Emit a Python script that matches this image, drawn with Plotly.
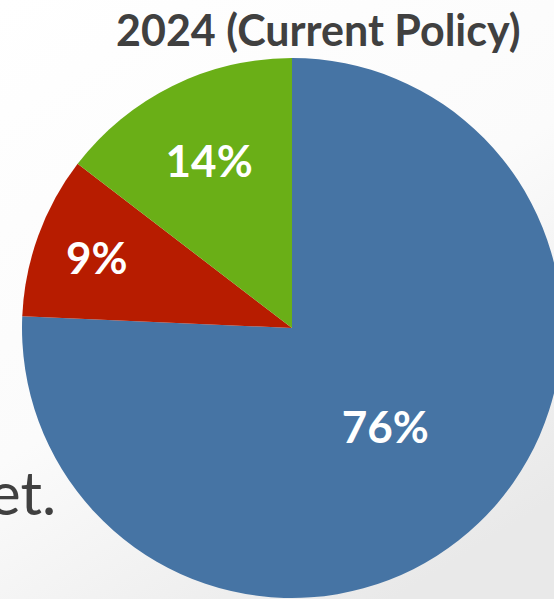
import base64
import plotly.graph_objects as go

categories = ["Blue", "Red", "Green"]
values = [75.7, 9.7, 14.6]
value_labels = ["76%", "9%", "14%"]
colors = ["#4674A4", "#B71C00", "#6AAF17"]
title_text = "2024 (Current Policy)"
side_text = "et."

W, H = 600, 620  # page viewport crops to 554x599

svg = ('<svg xmlns="http://www.w3.org/2000/svg" width="600" height="620">'
       '<defs><linearGradient id="g" x1="0" y1="0" x2="0.6" y2="1">'
       '<stop offset="0" stop-color="#ffffff"/><stop offset="0.55" stop-color="#fbfbfb"/>'
       '<stop offset="1" stop-color="#e9e9e9"/></linearGradient></defs>'
       '<rect width="600" height="620" fill="url(#g)"/></svg>')
bg = "data:image/svg+xml;base64," + base64.b64encode(svg.encode()).decode()

cx, cy, r = 292, 328, 270
fig = go.Figure(go.Pie(
    labels=categories, values=values, text=value_labels,
    textinfo="text", textposition="inside", insidetextorientation="horizontal",
    marker=dict(colors=colors, line=dict(width=0)),
    sort=False, direction="clockwise", rotation=0,
    textfont=dict(family="Lato", size=44, color="white", weight="bold"),
    domain=dict(x=[(cx - r) / W, (cx + r) / W], y=[(H - cy - r) / H, (H - cy + r) / H]),
    showlegend=False, hoverinfo="skip",
))

fig.update_layout(
    width=W, height=H, margin=dict(l=0, r=0, t=0, b=0),
    paper_bgcolor="white", plot_bgcolor="white",
    images=[dict(source=bg, xref="paper", yref="paper", x=0, y=1, sizex=1, sizey=1,
                 xanchor="left", yanchor="top", sizing="stretch", layer="below")],
    annotations=[
        dict(text=title_text, xref="paper", yref="paper", x=318 / W, y=1 - 2 / H,
             xanchor="center", yanchor="top", showarrow=False,
             font=dict(family="Lato", size=43, color="#404040", weight="bold")),
        dict(text=side_text, xref="paper", yref="paper", x=58 / W, y=1 - 530 / H,
             xanchor="right", yanchor="bottom", showarrow=False,
             font=dict(family="Lato", size=60, color="#404040")),
    ],
)

fig.write_html("out.html", config={"displayModeBar": False},
               post_script="document.body.style.margin='0';document.body.style.overflow='hidden';")
